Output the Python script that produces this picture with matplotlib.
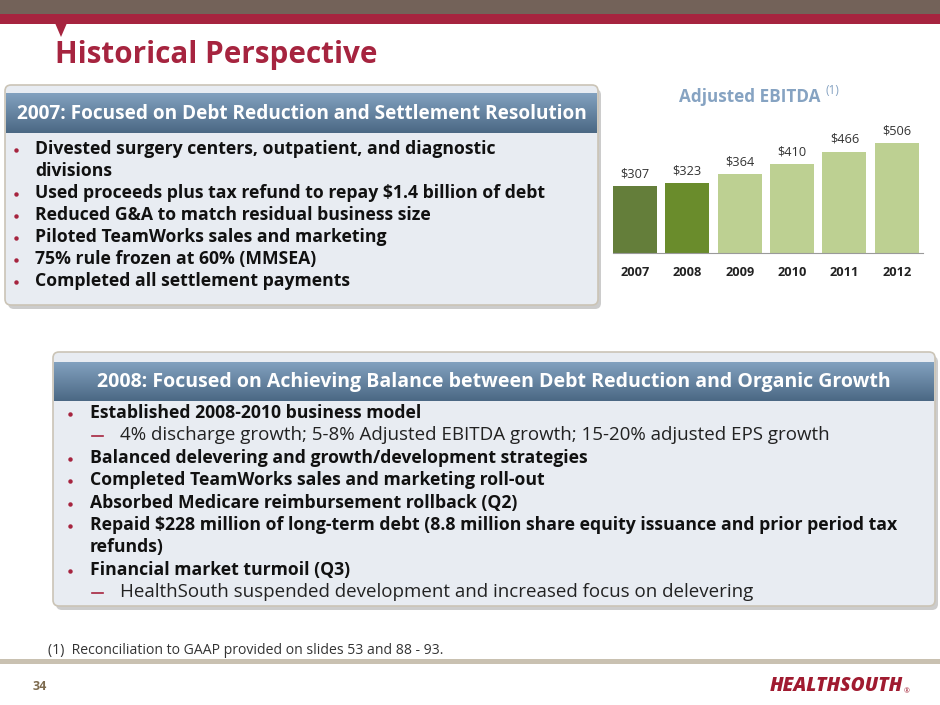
import numpy as np
import matplotlib.pyplot as plt
from matplotlib.patches import Rectangle, FancyBboxPatch, Polygon

plt.rcParams['font.family'] = ['Open Sans', 'DejaVu Sans']

years = ['2007', '2008', '2009', '2010', '2011', '2012']
ebitda = [307, 323, 364, 410, 466, 506]
bar_colors = ['#647E3A', '#6A8C2C', '#BDD092', '#BDD092', '#BDD092', '#BDD092']

title = 'Historical Perspective'
box1_title = '2007: Focused on Debt Reduction and Settlement Resolution'
box1_items = [
    ('b', 'Divested surgery centers, outpatient, and diagnostic'),
    ('c', 'divisions'),
    ('b', 'Used proceeds plus tax refund to repay $1.4 billion of debt'),
    ('b', 'Reduced G&A to match residual business size'),
    ('b', 'Piloted TeamWorks sales and marketing'),
    ('b', '75% rule frozen at 60% (MMSEA)'),
    ('b', 'Completed all settlement payments'),
]
box2_title = '2008: Focused on Achieving Balance between Debt Reduction and Organic Growth'
box2_items = [
    ('b', 'Established 2008-2010 business model'),
    ('d', '4% discharge growth; 5-8% Adjusted EBITDA growth; 15-20% adjusted EPS growth'),
    ('b', 'Balanced delevering and growth/development strategies'),
    ('b', 'Completed TeamWorks sales and marketing roll-out'),
    ('b', 'Absorbed Medicare reimbursement rollback (Q2)'),
    ('b', 'Repaid $228 million of long-term debt (8.8 million share equity issuance and prior period tax'),
    ('c', 'refunds)'),
    ('b', 'Financial market turmoil (Q3)'),
    ('d', 'HealthSouth suspended development and increased focus on delevering'),
]
footnote = '(1)  Reconciliation to GAAP provided on slides 53 and 88 - 93.'

RED = '#A6243F'
W, H = 940, 705
fig = plt.figure(figsize=(W / 100, H / 100), dpi=100)
bg = fig.add_axes([0, 0, 1, 1])
bg.set_xlim(0, W)
bg.set_ylim(H, 0)
bg.axis('off')

# top bands
bg.add_patch(Rectangle((0, 0), W, 14, color='#736259', lw=0))
bg.add_patch(Rectangle((0, 14), W, 10, color=RED, lw=0))
bg.add_patch(Polygon([(55, 23), (67, 23), (61, 37)], closed=True, color=RED, lw=0))
bg.text(55, 55, title, color=RED, fontsize=21.3, fontweight='bold', va='center', ha='left')

grad = np.linspace(0, 1, 50).reshape(-1, 1)
top_c = np.array([0x82, 0xA1, 0xBF]) / 255
bot_c = np.array([0x4B, 0x68, 0x84]) / 255
grad_img = top_c + (bot_c - top_c) * grad[..., None]


def draw_box(x0, y0, x1, y1, hy0, hy1, head, hsize, items, bx, tx, dx, dtx, y_first, step):
    bg.add_patch(FancyBboxPatch((x0 + 3, y0 + 4), x1 - x0, y1 - y0,
                                boxstyle='round,pad=0,rounding_size=6',
                                fc='#9A9A9A', ec='none', alpha=0.5, zorder=1))
    bg.add_patch(FancyBboxPatch((x0, y0), x1 - x0, y1 - y0,
                                boxstyle='round,pad=0,rounding_size=6',
                                fc='#E8ECF2', ec='#CBC4B6', lw=1.2, zorder=2))
    bg.imshow(grad_img, extent=(x0 + 1, x1 - 1, hy1, hy0), aspect='auto', zorder=3)
    bg.text((x0 + x1) / 2, (hy0 + hy1) / 2 + 1, head, color='white', fontsize=hsize,
            fontweight='bold', ha='center', va='center', zorder=4)
    y = y_first
    for kind, txt in items:
        if kind == 'b':
            bg.plot(bx + 2, y + 1, 'o', ms=3.2, color=RED, mec='none', zorder=4)
            bg.text(tx, y, txt, color='#111111', fontsize=12.7, fontweight='bold',
                    ha='left', va='center', zorder=4)
        elif kind == 'c':
            bg.text(tx, y, txt, color='#111111', fontsize=12.7, fontweight='bold',
                    ha='left', va='center', zorder=4)
        else:
            bg.plot([dx + 2, dx + 13], [y + 1, y + 1], color=RED, lw=1.2, zorder=4)
            bg.text(dtx, y, txt, color='#222222', fontsize=13.5,
                    ha='left', va='center', zorder=4)
        y += step


draw_box(5, 85, 598, 305, 93, 133, box1_title, 13.65, box1_items, 14, 35, 0, 0, 149, 22)
draw_box(53, 352, 935, 606, 362, 401, box2_title, 14.0, box2_items, 68, 90, 90, 120, 413, 22.4)

# bar chart
ax = fig.add_axes([613 / W, 1 - 253 / H, 310 / W, 123 / H])
x = np.arange(len(years))
bars = ax.bar(x, ebitda, width=0.84, color=bar_colors)
for xi, v in zip(x, ebitda):
    ax.annotate(f'${v}', (xi, v), xytext=(0, 4), textcoords='offset points',
                ha='center', va='bottom', fontsize=9.2, color='#333333')
ax.set_xlim(-0.42, 5.5)
ax.set_ylim(0, 565)
ax.set_xticks(x)
ax.set_xticklabels(years, fontweight='bold', fontsize=9.2, color='#222222')
ax.tick_params(axis='x', length=0, pad=9)
ax.set_yticks([])
for s in ['top', 'right', 'left']:
    ax.spines[s].set_visible(False)
ax.spines['bottom'].set_color('#9A9A9A')
ax.patch.set_alpha(0)

bg.text(679, 97, 'Adjusted EBITDA', color='#86A3C2', fontsize=12.3, fontweight='bold',
        ha='left', va='center')
bg.text(826, 91, '(1)', color='#86A3C2', fontsize=8.5, ha='left', va='center')

# footer
bg.text(48, 651, footnote, color='#333333', fontsize=10.1, ha='left', va='center')
bg.add_patch(Rectangle((0, 659), W, 5, color='#C9C1B1', lw=0))
bg.text(33, 687, '34', color='#7D6B4F', fontsize=9, fontweight='bold', ha='left', va='center')
bg.text(903, 686, 'HEALTHSOUTH', color='#A01B30', fontsize=13.8, fontweight='heavy',
        fontstyle='italic', ha='right', va='center')
bg.text(904, 692, '®', color='#A01B30', fontsize=5, ha='left', va='center')

fig.savefig('out.png', dpi=100)
